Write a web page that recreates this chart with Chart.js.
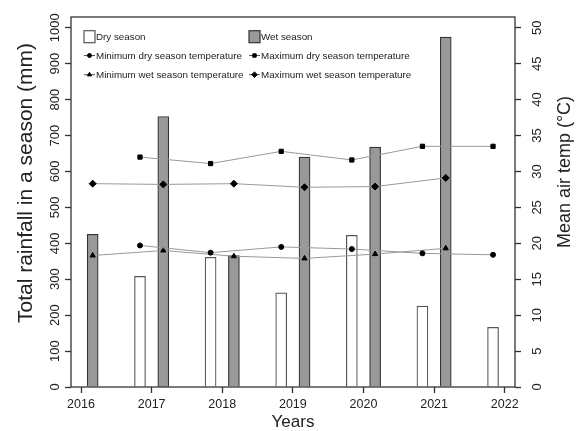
<!DOCTYPE html>
<html>
<head>
<meta charset="utf-8">
<script src="https://cdn.jsdelivr.net/npm/chart.js@4.4.0/dist/chart.umd.min.js"></script>
<style>
  html, body { margin: 0; padding: 0; background: #fff; }
  #wrap { position: relative; width: 579px; height: 431px; }
</style>
</head>
<body>
<div id="wrap"><canvas id="chRain"></canvas></div>
<script>
// x axis tick years
var years = [2016, 2017, 2018, 2019, 2020, 2021, 2022];

// where each season falls inside its year
var wetSeasonX = [2016.165, 2017.165, 2018.165, 2019.165, 2020.165, 2021.165];
var drySeasonX = [2016.835, 2017.835, 2018.835, 2019.835, 2020.835, 2021.835];

// total rainfall per season (mm)
var wetRain = [425, 753, 366, 640, 668, 974];
var dryRain = [308, 361, 262, 422, 225, 166];

// mean air temperature (°C)
var minDryTemp = [19.7, 18.7, 19.5, 19.2, 18.6, 18.4];
var maxDryTemp = [32.0, 31.1, 32.8, 31.6, 33.5, 33.5];
var minWetTemp = [18.3, 19.0, 18.2, 17.9, 18.5, 19.3];
var maxWetTemp = [28.3, 28.2, 28.3, 27.8, 27.9, 29.1];

// axis ticks
var rainTicks = [0, 100, 200, 300, 400, 500, 600, 700, 800, 900, 1000];
var tempTicks = [0, 5, 10, 15, 20, 25, 30, 35, 40, 45, 50];

var FONT = "'Liberation Sans', Arial, sans-serif";
var INK = '#222';
Chart.defaults.font.family = FONT;
Chart.defaults.color = INK;

function pts(xs, ys) {
    return xs.map(function (x, i) { return {x: x, y: ys[i]}; });
}

function fixedTicks(list) {
    return function (scale) {
        scale.ticks = list.map(function (v) { return {value: v}; });
    };
}

function plain(v) { return String(v); }

function tempLine(label, xs, ys, style, radius) {
    return {
        type: 'line',
        label: label,
        data: pts(xs, ys),
        yAxisID: 'y2',
        borderColor: '#999',
        borderWidth: 1,
        pointStyle: style,
        pointRadius: radius,
        pointBackgroundColor: '#000',
        pointBorderColor: '#000',
        pointBorderWidth: 1,
        tension: 0,
        order: 0
    };
}

var datasets = [
    {
        type: 'bar',
        label: 'Dry season',
        data: pts(drySeasonX, dryRain),
        yAxisID: 'y',
        stack: 'rain',
        backgroundColor: '#fff',
        borderColor: '#555',
        borderWidth: 1.2,
        barThickness: 11,
        order: 1
    },
    {
        type: 'bar',
        label: 'Wet season',
        data: pts(wetSeasonX, wetRain),
        yAxisID: 'y',
        stack: 'rain',
        backgroundColor: '#999',
        borderColor: '#333',
        borderWidth: 1.2,
        barThickness: 11,
        order: 1
    },
    tempLine('Minimum dry season temperature', drySeasonX, minDryTemp, 'circle', 2.5),
    tempLine('Maximum dry season temperature', drySeasonX, maxDryTemp, 'rect', 3),
    tempLine('Minimum wet season temperature', wetSeasonX, minWetTemp, 'triangle', 3),
    tempLine('Maximum wet season temperature', wetSeasonX, maxWetTemp, 'rectRot', 3.5)
];

// box around the plot area
var frame = {
    id: 'frame',
    afterDraw: function (chart) {
        var a = chart.chartArea, ctx = chart.ctx;
        ctx.save();
        ctx.strokeStyle = '#333';
        ctx.lineWidth = 1.3;
        ctx.strokeRect(a.left, a.top, a.right - a.left, a.bottom - a.top);
        ctx.restore();
    }
};

// two-column legend inside the plot, plus the rotated axis titles
var legendOrder = [[0, 2, 4], [1, 3, 5]];
var overlay = {
    id: 'overlay',
    afterDraw: function (chart) {
        var a = chart.chartArea, ctx = chart.ctx;
        var colX = [a.left + 13, a.left + 178];
        var rowY = [a.top + 19.7, a.top + 38.5, a.top + 57.7];
        ctx.save();
        ctx.font = '9.8px ' + FONT;
        ctx.textBaseline = 'middle';
        ctx.textAlign = 'left';
        legendOrder.forEach(function (col, c) {
            col.forEach(function (di, r) {
                var ds = chart.data.datasets[di];
                var x = colX[c], y = rowY[r];
                if (ds.type === 'bar') {
                    ctx.fillStyle = ds.backgroundColor;
                    ctx.fillRect(x, y - 6, 11, 12);
                    ctx.strokeStyle = ds.borderColor;
                    ctx.lineWidth = 1.2;
                    ctx.strokeRect(x, y - 6, 11, 12);
                } else {
                    ctx.strokeStyle = '#555';
                    ctx.lineWidth = 1;
                    ctx.beginPath();
                    ctx.moveTo(x, y);
                    ctx.lineTo(x + 11, y);
                    ctx.stroke();
                    ctx.fillStyle = '#000';
                    ctx.strokeStyle = '#000';
                    Chart.helpers.drawPoint(ctx, {
                        pointStyle: ds.pointStyle,
                        radius: ds.pointRadius * 0.8,
                        rotation: 0,
                        borderWidth: 1
                    }, x + 5.5, y);
                }
                ctx.fillStyle = INK;
                ctx.fillText(ds.label, x + 12, y + 0.5);
            });
        });

        ctx.fillStyle = INK;
        ctx.textAlign = 'center';
        ctx.font = '21px ' + FONT;
        ctx.translate(26, 183);
        ctx.rotate(-Math.PI / 2);
        ctx.fillText('Total rainfall in a season (mm)', 0, 0);
        ctx.setTransform(1, 0, 0, 1, 0, 0);
        ctx.font = '18px ' + FONT;
        ctx.translate(565, 172);
        ctx.rotate(-Math.PI / 2);
        ctx.fillText('Mean air temp (°C)', 0, 0);
        ctx.restore();
    }
};

var tickGrid = {
    display: true,
    drawOnChartArea: false,
    drawTicks: true,
    tickLength: 6,
    tickColor: '#333',
    tickWidth: 1.3,
    offset: false
};

new Chart(document.getElementById('chRain'), {
    type: 'bar',
    data: {datasets: datasets},
    options: {
        responsive: true,
        maintainAspectRatio: false,
        animation: false,
        layout: {padding: {top: 17, left: 0, right: 0, bottom: 0}},
        plugins: {
            legend: {display: false},
            tooltip: {enabled: false}
        },
        scales: {
            x: {
                type: 'linear',
                min: 2015.858,
                max: 2022.146,
                offset: false,
                afterBuildTicks: fixedTicks(years),
                afterFit: function (s) { s.height = 44; },
                grid: tickGrid,
                border: {display: false},
                ticks: {
                    autoSkip: false,
                    maxRotation: 0,
                    padding: 4,
                    color: INK,
                    font: {size: 12.5},
                    callback: plain
                },
                title: {
                    display: true,
                    text: 'Years',
                    color: INK,
                    font: {size: 17, lineHeight: 1},
                    padding: 0
                }
            },
            y: {
                type: 'linear',
                position: 'left',
                min: 0,
                max: 1030,
                stacked: false,
                afterBuildTicks: fixedTicks(rainTicks),
                afterFit: function (s) { s.width = 71; },
                grid: tickGrid,
                border: {display: false},
                ticks: {
                    minRotation: 90,
                    maxRotation: 90,
                    crossAlign: 'center',
                    padding: -4.5,
                    color: INK,
                    font: {size: 13},
                    callback: plain
                }
            },
            y2: {
                type: 'linear',
                position: 'right',
                min: 0,
                max: 51.5,
                afterBuildTicks: fixedTicks(tempTicks),
                afterFit: function (s) { s.width = 64; },
                grid: tickGrid,
                border: {display: false},
                ticks: {
                    minRotation: 90,
                    maxRotation: 90,
                    crossAlign: 'center',
                    padding: 9,
                    color: INK,
                    font: {size: 13},
                    callback: plain
                }
            }
        }
    },
    plugins: [frame, overlay]
});
</script>
</body>
</html>
